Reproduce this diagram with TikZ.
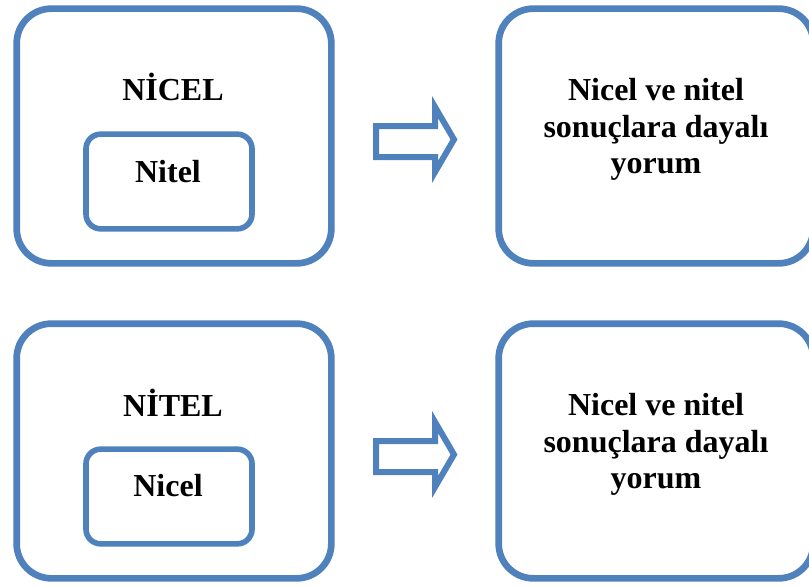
\documentclass[tikz,border=0pt]{standalone}
\usepackage{fontspec}
\setmainfont{Liberation Serif}
\definecolor{boxblue}{RGB}{79,129,189}
\begin{document}
\begin{tikzpicture}[x=0.75pt,y=-0.75pt,
  bigbox/.style={draw=boxblue, line width=5pt, rounded corners=26pt, minimum width=236pt, minimum height=191pt, inner sep=0pt},
  smallbox/.style={draw=boxblue, line width=4.2pt, rounded corners=11pt, minimum width=124.5pt, minimum height=71pt, inner sep=0pt},
  txt/.style={font=\bfseries\fontsize{24}{27.4}\selectfont, inner sep=0pt, text=black},
  blockarrow/.style={draw=boxblue, line width=4.5pt, miter limit=10},
]
\useasboundingbox (0,0) rectangle (809,585);
\fill[white] (0,0) rectangle (809,585);

% top row
\node[bigbox] (outerA) at (174,136) {};
\node[smallbox] (innerA) at (169,181.5) {};
\node[txt, anchor=base] (titleA) at (173,100) {NİCEL};
\node[txt, anchor=base] (subA) at (168,182) {Nitel};
\node[bigbox] (resA) at (656,136) {};
\node[txt, align=center] (resAtext) at (656,129.5) {Nicel ve nitel\\sonuçlara dayalı\\yorum};
\draw[blockarrow] (376,126) -- (435,126) -- (435,107) -- (454,139.5) -- (435,172) -- (435,157) -- (376,157) -- cycle;

% bottom row
\node[bigbox] (outerB) at (174,451) {};
\node[smallbox] (innerB) at (169,496.5) {};
\node[txt, anchor=base] (titleB) at (173,416) {NİTEL};
\node[txt, anchor=base] (subB) at (168,496) {Nicel};
\node[bigbox] (resB) at (656,451) {};
\node[txt, align=center] (resBtext) at (656,444.5) {Nicel ve nitel\\sonuçlara dayalı\\yorum};
\draw[blockarrow] (376,441) -- (435,441) -- (435,422) -- (454,454.5) -- (435,487) -- (435,472) -- (376,472) -- cycle;
\end{tikzpicture}
\end{document}
